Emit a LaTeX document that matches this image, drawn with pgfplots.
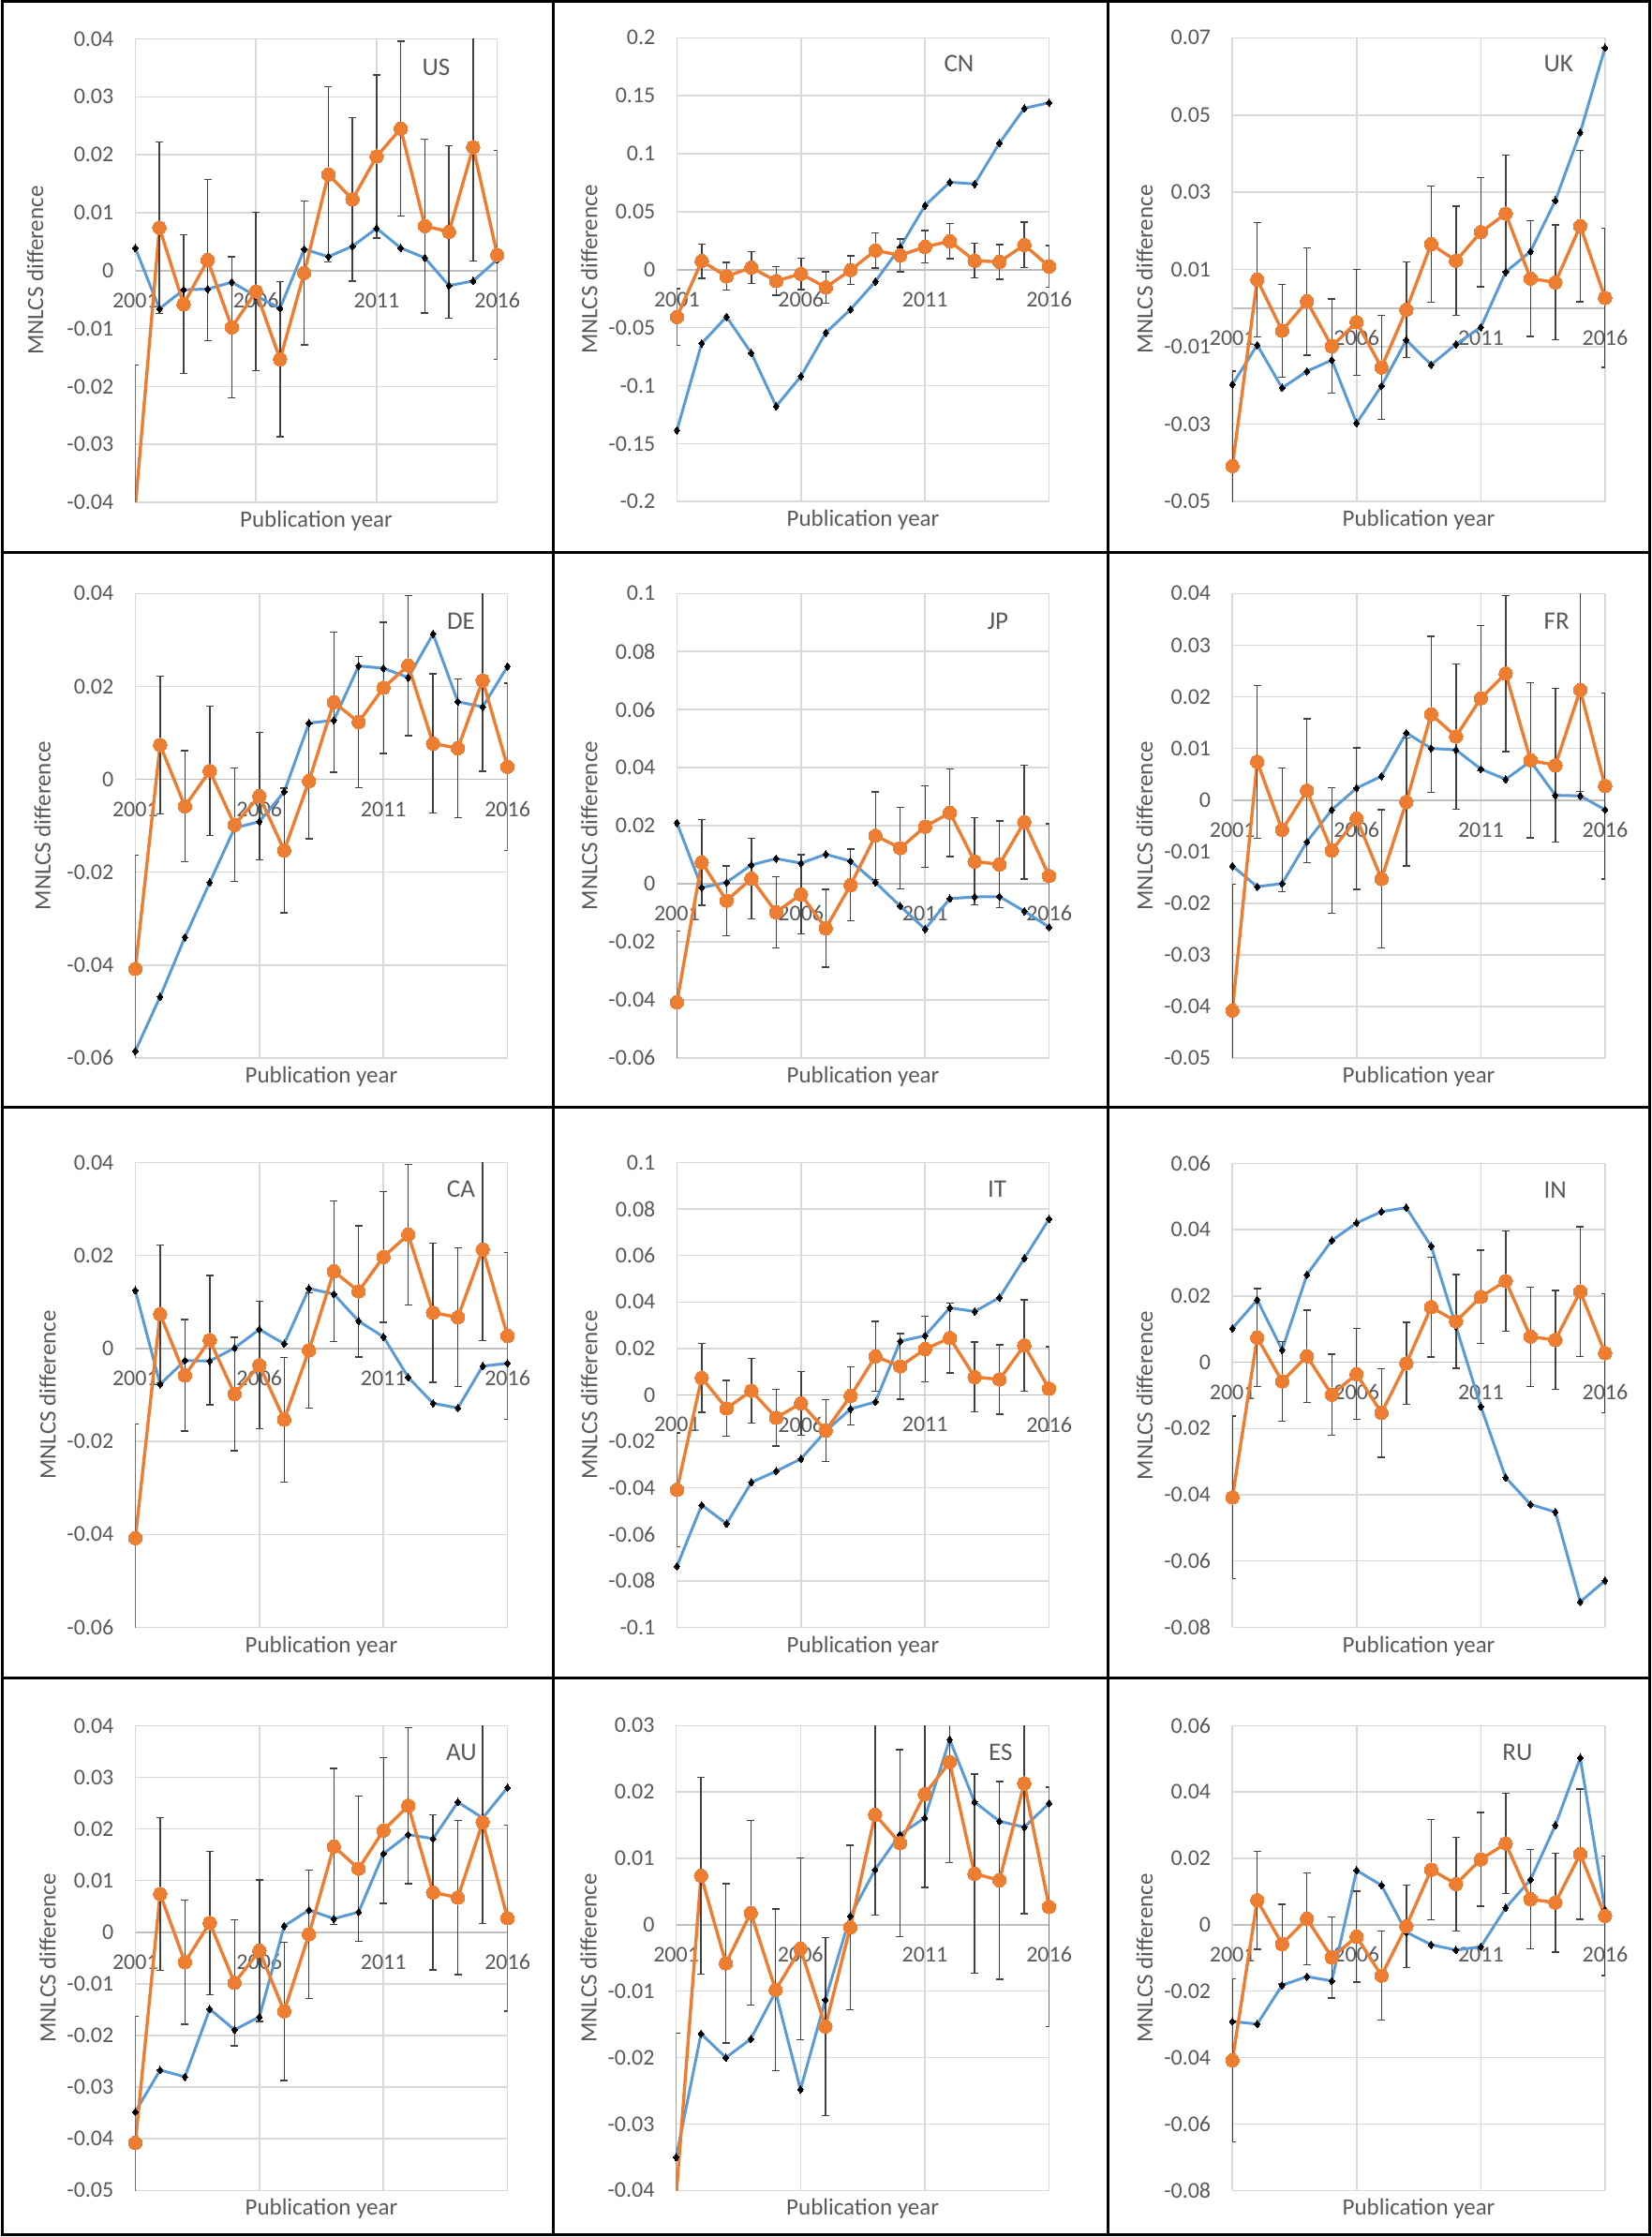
\documentclass[border=0pt]{standalone}
\usepackage{pgfplots}
\usepackage{pgfplotstable}
\usepackage{fontspec}
\setmainfont{Carlito}
\pgfplotsset{compat=1.18}
\definecolor{txtgray}{HTML}{595959}
\definecolor{gridgray}{HTML}{D9D9D9}
\definecolor{axgray}{HTML}{BFBFBF}
\definecolor{exblue}{HTML}{5B9BD5}
\definecolor{exorange}{HTML}{ED7D31}
\definecolor{errgray}{HTML}{404040}

\pgfplotstableread{
year val err
2001 -0.0408 0.0245
2002 0.0074 0.0148
2003 -0.0058 0.0120
2004 0.0018 0.0139
2005 -0.0098 0.0122
2006 -0.0036 0.0137
2007 -0.0153 0.0134
2008 -0.0004 0.0124
2009 0.0166 0.0151
2010 0.0123 0.0141
2011 0.0197 0.0141
2012 0.0245 0.0151
2013 0.0077 0.0150
2014 0.0067 0.0149
2015 0.0213 0.0196
2016 0.0027 0.0180
}\orangedata

\pgfplotstableread{
year US CN UK DE JP FR CA IT IN AU ES RU
2001 0.0039 -0.1385 -0.0197 -0.0585 0.0210 -0.0128 0.0125 -0.0737 0.0102 -0.0348 -0.0350 -0.0291
2002 -0.0066 -0.0635 -0.0095 -0.0468 -0.0013 -0.0168 -0.0077 -0.0474 0.0188 -0.0267 -0.0164 -0.0299
2003 -0.0033 -0.0407 -0.0206 -0.0340 0.0005 -0.0162 -0.0026 -0.0554 0.0037 -0.0280 -0.0200 -0.0182
2004 -0.0032 -0.0720 -0.0163 -0.0222 0.0065 -0.0081 -0.0027 -0.0376 0.0264 -0.0149 -0.0172 -0.0156
2005 -0.0020 -0.1178 -0.0134 -0.0105 0.0087 -0.0019 0.0001 -0.0328 0.0367 -0.0189 -0.0101 -0.0169
2006 -0.0044 -0.0919 -0.0297 -0.0091 0.0071 0.0023 0.0041 -0.0275 0.0420 -0.0164 -0.0248 0.0164
2007 -0.0065 -0.0544 -0.0201 -0.0027 0.0102 0.0046 0.0010 -0.0155 0.0454 0.0012 -0.0113 0.0119
2008 0.0037 -0.0343 -0.0082 0.0121 0.0078 0.0130 0.0129 -0.0060 0.0466 0.0043 0.0013 -0.0022
2009 0.0024 -0.0102 -0.0146 0.0127 0.0005 0.0100 0.0117 -0.0030 0.0350 0.0026 0.0083 -0.0060
2010 0.0042 0.0194 -0.0093 0.0244 -0.0077 0.0097 0.0059 0.0231 0.0108 0.0039 0.0136 -0.0076
2011 0.0073 0.0553 -0.0049 0.0239 -0.0156 0.0060 0.0025 0.0255 -0.0134 0.0152 0.0161 -0.0066
2012 0.0039 0.0754 0.0094 0.0219 -0.0051 0.0040 -0.0062 0.0375 -0.0348 0.0189 0.0279 0.0051
2013 0.0022 0.0739 0.0147 0.0313 -0.0045 0.0075 -0.0118 0.0359 -0.0429 0.0181 0.0185 0.0136
2014 -0.0026 0.1092 0.0279 0.0167 -0.0044 0.0009 -0.0128 0.0419 -0.0452 0.0252 0.0156 0.0300
2015 -0.0018 0.1391 0.0455 0.0156 -0.0094 0.0008 -0.0038 0.0588 -0.0723 0.0221 0.0147 0.0503
2016 0.0019 0.1440 0.0674 0.0243 -0.0149 -0.0019 -0.0032 0.0757 -0.0659 0.0280 0.0183 0.0045
}\bluedata

\tikzset{cty/.style={font=\fontsize{13.5}{15}\selectfont, text=txtgray}}

\pgfplotsset{
  ylab/.style={every axis y label/.style={at={([xshift=-#1]axis description cs:0,0.5)}, anchor=center, rotate=90, font=\fontsize{12.5}{14}\selectfont, text=txtgray}},
  panel/.style={
    scale only axis,
    anchor=south west,
    xmin=2001, xmax=2016,
    enlargelimits=false,
    axis x line=middle,
    axis y line*=left,
    axis line style={-},
    x axis line style={draw=axgray, line width=0.9pt},
    y axis line style={draw=gridgray, line width=0.75pt},
    hide obscured x ticks=false,
    hide obscured y ticks=false,
    scaled y ticks=false,
    xtick={2001,2006,2011,2016},
    xticklabels={2001,2006,2011,2016},
    grid=major,
    grid style={draw=gridgray, line width=0.75pt},
    major tick length=0pt,
    tick style={draw=none},
    tick label style={font=\fontsize{12}{14}\selectfont, text=txtgray},
    xticklabel style={anchor=center, yshift=-15.9pt},
    yticklabel style={anchor=east, xshift=-8pt},
    /pgf/number format/fixed,
    /pgf/number format/precision=2,
    /pgf/number format/assume math mode=true,
    xlabel={Publication year},
    ylabel={MNLCS difference},
    every axis x label/.style={at={(axis description cs:0.5,0)}, anchor=center, yshift=-10pt, font=\fontsize{12.5}{14}\selectfont, text=txtgray},
    ylab=46.8pt,
  },
  bl/.style={exblue, line width=1.5pt, mark=diamond*, mark size=2pt, mark options={draw=black, fill=black, line width=0pt}},
  orr/.style={exorange, line width=1.7pt, mark=*, mark size=3.6pt, mark options={draw=exorange, fill=exorange, line width=0pt},
    error bars/.cd, y dir=both, y explicit,
    error bar style={draw=errgray, line width=0.7pt},
    error mark options={rotate=90, mark size=2pt, draw=errgray, line width=0.7pt}},
}

\begin{document}
\begin{tikzpicture}[x=1pt,y=1pt]
\useasboundingbox (0,0) rectangle (881,1193.5);

% ---------------- Row 1 ----------------
\begin{axis}[panel, at={(72.2pt,925.5pt)}, width=193.15pt, height=247.25pt,
  ymin=-0.04, ymax=0.04, ytick={-0.04,-0.03,-0.02,-0.01,0,0.01,0.02,0.03,0.04},
  ylab=53.4pt]
\addplot[bl] table[x=year,y=US]{\bluedata};
\addplot[orr] table[x=year,y=val,y error=err]{\orangedata};
\node[cty] at (rel axis cs:0.831,0.939) {US};
\end{axis}

\begin{axis}[panel, at={(361.2pt,925.9pt)}, width=198.6pt, height=247.45pt,
  ymin=-0.2, ymax=0.2, ytick={-0.2,-0.15,-0.1,-0.05,0,0.05,0.1,0.15,0.2}]
\addplot[bl] table[x=year,y=CN]{\bluedata};
\addplot[orr] table[x=year,y=val,y error=err]{\orangedata};
\node[cty] at (rel axis cs:0.758,0.944) {CN};
\end{axis}

\begin{axis}[panel, at={(657.6pt,925.9pt)}, width=198.85pt, height=247.45pt,
  ymin=-0.05, ymax=0.07, ytick={-0.05,-0.03,-0.01,0.01,0.03,0.05,0.07}]
\addplot[bl] table[x=year,y=UK]{\bluedata};
\addplot[orr] table[x=year,y=val,y error=err]{\orangedata};
\node[cty] at (rel axis cs:0.875,0.944) {UK};
\end{axis}

% ---------------- Row 2 ----------------
\begin{axis}[panel, at={(72.2pt,629pt)}, width=198.6pt, height=247.85pt,
  ymin=-0.06, ymax=0.04, ytick={-0.06,-0.04,-0.02,0,0.02,0.04},
  ylab=49.6pt]
\addplot[bl] table[x=year,y=DE]{\bluedata};
\addplot[orr] table[x=year,y=val,y error=err]{\orangedata};
\node[cty] at (rel axis cs:0.875,0.94) {DE};
\end{axis}

\begin{axis}[panel, at={(361.2pt,629pt)}, width=198.6pt, height=247.85pt,
  ymin=-0.06, ymax=0.1, ytick={-0.06,-0.04,-0.02,0,0.02,0.04,0.06,0.08,0.1}]
\addplot[bl] table[x=year,y=JP]{\bluedata};
\addplot[orr] table[x=year,y=val,y error=err]{\orangedata};
\node[cty] at (rel axis cs:0.862,0.94) {JP};
\end{axis}

\begin{axis}[panel, at={(657.6pt,629pt)}, width=198.85pt, height=247.85pt,
  ymin=-0.05, ymax=0.04, ytick={-0.05,-0.04,-0.03,-0.02,-0.01,0,0.01,0.02,0.03,0.04}]
\addplot[bl] table[x=year,y=FR]{\bluedata};
\addplot[orr] table[x=year,y=val,y error=err]{\orangedata};
\node[cty] at (rel axis cs:0.87,0.94) {FR};
\end{axis}

% ---------------- Row 3 ----------------
\begin{axis}[panel, at={(72.2pt,325.25pt)}, width=198.6pt, height=248pt,
  ymin=-0.06, ymax=0.04, ytick={-0.06,-0.04,-0.02,0,0.02,0.04}]
\addplot[bl] table[x=year,y=CA]{\bluedata};
\addplot[orr] table[x=year,y=val,y error=err]{\orangedata};
\node[cty] at (rel axis cs:0.875,0.942) {CA};
\end{axis}

\begin{axis}[panel, at={(361.2pt,325.25pt)}, width=198.6pt, height=248pt,
  ymin=-0.1, ymax=0.1, ytick={-0.1,-0.08,-0.06,-0.04,-0.02,0,0.02,0.04,0.06,0.08,0.1}]
\addplot[bl] table[x=year,y=IT]{\bluedata};
\addplot[orr] table[x=year,y=val,y error=err]{\orangedata};
\node[cty] at (rel axis cs:0.86,0.942) {IT};
\end{axis}

\begin{axis}[panel, at={(657.6pt,325.25pt)}, width=198.85pt, height=247.6pt,
  ymin=-0.08, ymax=0.06, ytick={-0.08,-0.06,-0.04,-0.02,0,0.02,0.04,0.06}]
\addplot[bl] table[x=year,y=IN]{\bluedata};
\addplot[orr] table[x=year,y=val,y error=err]{\orangedata};
\node[cty] at (rel axis cs:0.866,0.942) {IN};
\end{axis}

% ---------------- Row 4 ----------------
\begin{axis}[panel, at={(72.2pt,24.85pt)}, width=198.6pt, height=248pt,
  ymin=-0.05, ymax=0.04, ytick={-0.05,-0.04,-0.03,-0.02,-0.01,0,0.01,0.02,0.03,0.04}]
\addplot[bl] table[x=year,y=AU]{\bluedata};
\addplot[orr] table[x=year,y=val,y error=err]{\orangedata};
\node[cty] at (rel axis cs:0.876,0.943) {AU};
\end{axis}

\begin{axis}[panel, at={(360.8pt,24.85pt)}, width=199pt, height=248pt,
  ymin=-0.04, ymax=0.03, ytick={-0.04,-0.03,-0.02,-0.01,0,0.01,0.02,0.03}]
\addplot[bl] table[x=year,y=ES]{\bluedata};
\addplot[orr] table[x=year,y=val,y error=err]{\orangedata};
\node[cty] at (rel axis cs:0.87,0.943) {ES};
\end{axis}

\begin{axis}[panel, at={(657.6pt,24.85pt)}, width=198.85pt, height=248pt,
  ymin=-0.08, ymax=0.06, ytick={-0.08,-0.06,-0.04,-0.02,0,0.02,0.04,0.06}]
\addplot[bl] table[x=year,y=RU]{\bluedata};
\addplot[orr] table[x=year,y=val,y error=err]{\orangedata};
\node[cty] at (rel axis cs:0.765,0.943) {RU};
\end{axis}

% panel borders
\draw[black, line width=1.5pt] (1,1) rectangle (880,1192.5);
\draw[black, line width=1.5pt] (295,1) -- (295,1192.5);
\draw[black, line width=1.5pt] (591,1) -- (591,1192.5);
\draw[black, line width=1.5pt] (1,898.5) -- (880,898.5);
\draw[black, line width=1.5pt] (1,602.5) -- (880,602.5);
\draw[black, line width=1.5pt] (1,298) -- (880,298);
\end{tikzpicture}
\end{document}
